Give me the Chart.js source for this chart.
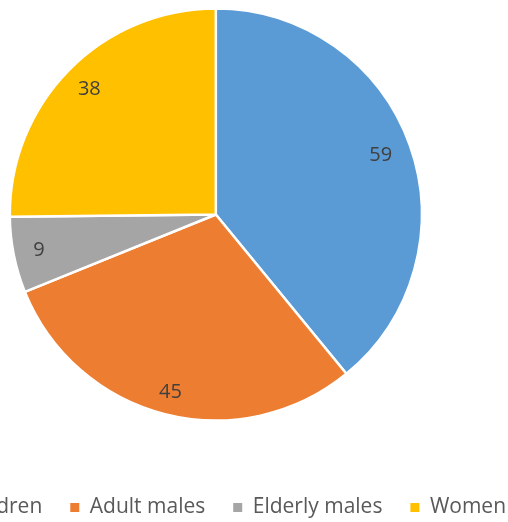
<!DOCTYPE html>
<html>
<head>
<meta charset="utf-8">
<script src="https://cdn.jsdelivr.net/npm/chart.js@4/dist/chart.umd.min.js"></script>
<style>
  html, body { margin: 0; padding: 0; background: #ffffff; overflow: hidden; width: 508px; height: 522px; }
  #wrap { position: absolute; left: -127px; top: -40px; width: 700px; height: 568px; }
</style>
</head>
<body>
<div id="wrap"><canvas id="pie"></canvas></div>
<script>
  "use strict";

  // data
  const categories = ["Children", "Adult males", "Elderly males", "Women"];
  const counts = [59, 45, 9, 38];
  const sliceColors = ["#5B9BD5", "#ED7D31", "#A5A5A5", "#FFC000"];

  const FONT = "'Open Sans', 'Liberation Sans', sans-serif";

  // value labels drawn just inside the outer edge of each slice
  const insideEndLabels = {
    id: "insideEndLabels",
    afterDatasetsDraw(chart) {
      const { ctx } = chart;
      const meta = chart.getDatasetMeta(0);
      ctx.save();
      ctx.font = "20px " + FONT;
      ctx.fillStyle = "#404040";
      ctx.textAlign = "center";
      ctx.textBaseline = "middle";
      meta.data.forEach((arc, i) => {
        const p = arc.getProps(["x", "y", "startAngle", "endAngle", "outerRadius"], true);
        const mid = (p.startAngle + p.endAngle) / 2;
        const text = String(counts[i]);
        const halfW = ctx.measureText(text).width / 2;
        const r = p.outerRadius - 20 - halfW * Math.abs(Math.cos(mid));
        ctx.fillText(text, p.x + Math.cos(mid) * r, p.y + Math.sin(mid) * r);
      });
      ctx.restore();
    }
  };

  const defaultPieLabels = Chart.overrides.pie.plugins.legend.labels.generateLabels;

  new Chart(document.getElementById("pie"), {
    type: "pie",
    data: {
      labels: categories,
      datasets: [{
        data: counts,
        backgroundColor: sliceColors,
        borderColor: "#ffffff",
        borderWidth: 2.5,
        radius: 206
      }]
    },
    options: {
      responsive: true,
      maintainAspectRatio: false,
      animation: false,
      layout: { padding: 0 },
      plugins: {
        tooltip: { enabled: false },
        // empty spacer on the right so the pie sits a little left of the legend centre
        title: {
          display: true,
          position: "right",
          fullSize: false,
          text: " ",
          font: { size: 2 },
          padding: 6
        },
        legend: {
          position: "bottom",
          labels: {
            boxWidth: 9,
            boxHeight: 9,
            padding: 28,
            color: "#595959",
            font: { size: 21, family: FONT },
            // plain filled squares, without the white slice border
            generateLabels: (chart) =>
              defaultPieLabels(chart).map((item) => Object.assign(item, { lineWidth: 0 }))
          }
        }
      }
    },
    plugins: [insideEndLabels]
  });
</script>
</body>
</html>
